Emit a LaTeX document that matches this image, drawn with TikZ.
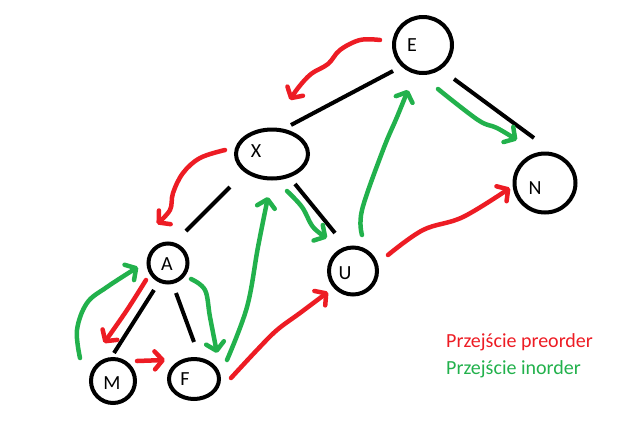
\documentclass[tikz,border=0pt]{standalone}
\usepackage{fontspec}
\setmainfont{Carlito}
\usetikzlibrary{shapes.geometric,arrows.meta}
\definecolor{pre}{HTML}{ED1C24}
\definecolor{ino}{HTML}{22B14C}
\tikzset{
  vert/.style={draw=black, line width=4pt, ellipse, inner sep=0pt},
  lbl/.style={font=\fontsize{20}{24}\selectfont, inner sep=0pt},
  edge/.style={draw=black, line width=4pt},
  trav/.style={line width=4.5pt, line cap=round, line join=round,
    -{Straight Barb[length=8pt,width=18pt,line cap=round,line join=round]}},
  prearr/.style={trav, draw=pre},
  inarr/.style={trav, draw=ino},
}
\begin{document}
\begin{tikzpicture}[x=1pt,y=-1pt]
\useasboundingbox (0,0) rectangle (621,432);
% vertices
\node[vert, minimum width=58pt, minimum height=56pt] (E) at (423,45) {};
\node[vert, minimum width=72pt, minimum height=49pt] (X) at (272,154) {};
\node[vert, minimum width=61pt, minimum height=59pt] (N) at (545,183) {};
\node[vert, minimum width=48pt, minimum height=47pt] (U) at (353,271) {};
\node[vert, minimum width=39pt, minimum height=39pt] (A) at (168,263) {};
\node[vert, minimum width=44pt, minimum height=44pt] (M) at (113,381) {};
\node[vert, minimum width=50pt, minimum height=40pt] (F) at (194,379) {};
% labels
\node[lbl] (Et) at (412,45) {E};
\node[lbl] (Xt) at (256,151) {X};
\node[lbl] (Nt) at (535,188) {N};
\node[lbl] (Ut) at (345,273) {U};
\node[lbl] (At) at (167,264) {A};
\node[lbl] (Mt) at (112,383) {M};
\node[lbl] (Ft) at (185,379) {F};
% tree edges
\coordinate (ex1) at (393,71);  \coordinate (ex2) at (291,125);
\coordinate (en1) at (454,79);  \coordinate (en2) at (534,138);
\coordinate (xu1) at (295,184); \coordinate (xu2) at (335,233);
\coordinate (xa1) at (230,187); \coordinate (xa2) at (186,231);
\coordinate (am1) at (154,290); \coordinate (am2) at (114,353);
\coordinate (af1) at (176,293); \coordinate (af2) at (194,342);
\draw[edge] (ex1) -- (ex2);
\draw[edge] (en1) -- (en2);
\draw[edge] (xu1) -- (xu2);
\draw[edge] (xa1) -- (xa2);
\draw[edge] (am1) -- (am2);
\draw[edge] (af1) -- (af2);
% preorder arrows
\draw[prearr] plot[smooth, tension=0.6] coordinates {(380,40) (360,40) (340,50) (328,64) (311,74) (298,88) (290,100)};
\draw[prearr] plot[smooth, tension=0.6] coordinates {(225,150) (200,158) (183,173) (173,193) (170,210) (157,224)};
\draw[prearr] plot[smooth, tension=0.6] coordinates {(146,280) (127,310) (104,343)};
\draw[prearr] plot[smooth, tension=0.6] coordinates {(137,361) (165,360)};
\draw[prearr] plot[smooth, tension=0.6] coordinates {(231,378) (257,350) (277,330) (300,313) (328,292)};
\draw[prearr] plot[smooth, tension=0.6] coordinates {(388,255) (423,230) (463,217) (510,188)};
% inorder arrows
\draw[inarr] plot[smooth, tension=0.6] coordinates {(80,358) (77,330) (87,303) (107,287) (138,267)};
\draw[inarr] plot[smooth, tension=0.6] coordinates {(191,279) (205,290) (210,317) (217,353)};
\draw[inarr] plot[smooth, tension=0.6] coordinates {(227,360) (247,307) (258,247) (268,197)};
\draw[inarr] plot[smooth, tension=0.6] coordinates {(287,191) (302,207) (313,227) (327,238)};
\draw[inarr] plot[smooth, tension=0.6] coordinates {(362,235) (362,210) (383,150) (397,117) (408,90)};
\draw[inarr] plot[smooth, tension=0.6] coordinates {(438,89) (478,120) (497,128) (517,140)};
% legend
\node[lbl, anchor=west, text=pre] (L1) at (446,342) {Przejście preorder};
\node[lbl, anchor=west, text=ino] (L2) at (446,369) {Przejście inorder};
\end{tikzpicture}
\end{document}
